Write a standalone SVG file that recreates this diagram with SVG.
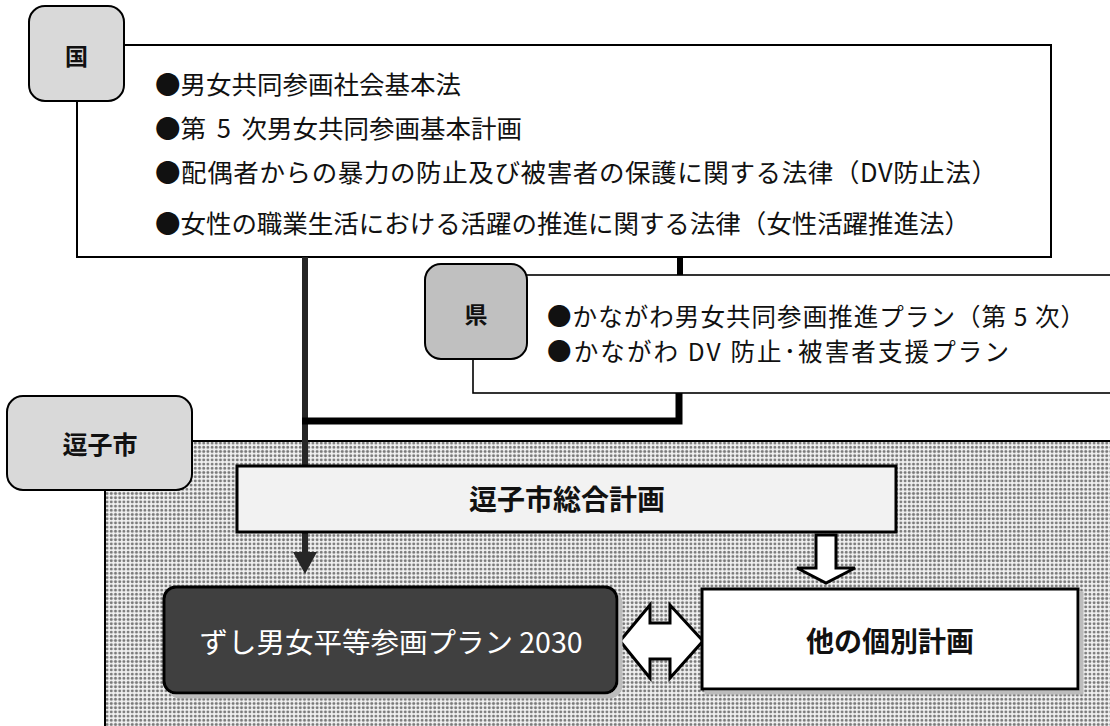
<svg xmlns="http://www.w3.org/2000/svg" width="1110" height="726" viewBox="0 0 1110 726">
<defs>
<pattern id="dots" width="4.2" height="4.2" patternUnits="userSpaceOnUse">
<rect width="4.2" height="4.2" fill="#f0f0f0"/>
<circle cx="2.1" cy="2.1" r="1.45" fill="#7a7a7a"/>
</pattern>
<filter id="shadow" x="-10%" y="-10%" width="130%" height="130%">
<feOffset dx="4" dy="4" in="SourceAlpha" result="o"/>
<feColorMatrix in="o" type="matrix" values="0 0 0 0 0.5 0 0 0 0 0.5 0 0 0 0 0.5 0 0 0 1 0" result="g"/>
<feMerge><feMergeNode in="g"/><feMergeNode in="SourceGraphic"/></feMerge>
</filter>
</defs>
<style>
text{font-family:"Noto Sans CJK JP","Noto Sans",sans-serif;fill:#111;}
.label{font-weight:bold;font-size:23px;text-anchor:middle;dominant-baseline:central;}
.item{font-size:25.5px;dominant-baseline:central;}
.pref{font-size:24.5px;dominant-baseline:central;}
.tag{stroke:#000;stroke-width:2;}
.frame{fill:#fff;stroke:#000;stroke-width:2;}
.thick{stroke:#000;stroke-width:7;fill:none;}
.hollow{fill:#fff;stroke:#000;stroke-width:3;stroke-linejoin:miter;}
</style>

<!-- city region background -->
<rect id="city-region" x="105" y="441" width="1020" height="300" fill="url(#dots)" stroke="#000" stroke-width="2"/>

<!-- national -->
<g id="national">
<rect class="frame" x="77" y="45" width="974" height="212"/>
<text class="item" x="155" y="82">●男女共同参画社会基本法</text>
<text class="item" x="155" y="126" style="word-spacing:5px">●第 5 次男女共同参画基本計画</text>
<text class="item" x="155" y="170" textLength="842" lengthAdjust="spacing">●配偶者からの暴力の防止及び被害者の保護に関する法律（DV防止法）</text>
<text class="item" x="155" y="221" textLength="815" lengthAdjust="spacing">●女性の職業生活における活躍の推進に関する法律（女性活躍推進法）</text>
</g>
<g id="kuni">
<rect class="tag" x="29" y="6" width="95" height="95" rx="16" fill="#d9d9d9"/>
<text class="label" x="76.5" y="55">国</text>
</g>

<!-- prefecture -->
<g id="prefecture">
<rect x="473" y="275" width="660" height="118" fill="#fff" stroke="#000" stroke-width="1.6"/>
<text class="pref" x="547" y="315" textLength="538" lengthAdjust="spacing">●かながわ男女共同参画推進プラン（第 5 次）</text>
<text class="pref" x="547" y="350" textLength="462" lengthAdjust="spacing">●かながわ DV 防止･被害者支援プラン</text>
</g>
<g id="ken">
<rect class="tag" x="425" y="264" width="102" height="95" rx="16" fill="#c0c0c0"/>
<text class="label" x="476" y="313">県</text>
</g>

<!-- connectors -->
<g id="connectors">
<line x1="305" y1="257" x2="305" y2="554" stroke="#262626" stroke-width="6"/>
<polygon points="293,552 317,552 305,574" fill="#262626"/>
<line x1="680" y1="257" x2="680" y2="275" stroke="#000" stroke-width="6"/>
<polyline class="thick" points="679,393 679,421 302,421"/>
<path class="hollow" d="M816,535 L836,535 L836,568 L855,568 L826,583 L797,568 L816,568 Z"/>
<path class="hollow" d="M620,641 L650,605 L650,623 L670,623 L670,605 L703,641 L670,678 L670,659 L650,659 L650,678 Z"/>
</g>

<!-- city -->
<g id="zushi">
<rect class="tag" x="7" y="396" width="185" height="94" rx="16" fill="#d9d9d9"/>
<text class="label" x="100" y="443" style="font-size:25px">逗子市</text>
</g>
<g id="general-plan">
<rect x="237" y="466" width="659" height="66" fill="#f2f2f2" stroke="#000" stroke-width="3"/>
<text class="label" x="567" y="498" style="font-size:28px">逗子市総合計画</text>
</g>
<g id="zushi-plan">
<rect x="164" y="587" width="453" height="106" rx="12" fill="#404040" stroke="#000" stroke-width="3" filter="url(#shadow)"/>
<text x="391" y="640" style="font-size:28.5px;text-anchor:middle;dominant-baseline:central;fill:#fff">ずし男女平等参画プラン 2030</text>
</g>
<g id="other-plans">
<rect x="702" y="589" width="376" height="100" fill="#fff" stroke="#000" stroke-width="3" filter="url(#shadow)"/>
<text class="label" x="890" y="640" style="font-size:28px">他の個別計画</text>
</g>
</svg>
